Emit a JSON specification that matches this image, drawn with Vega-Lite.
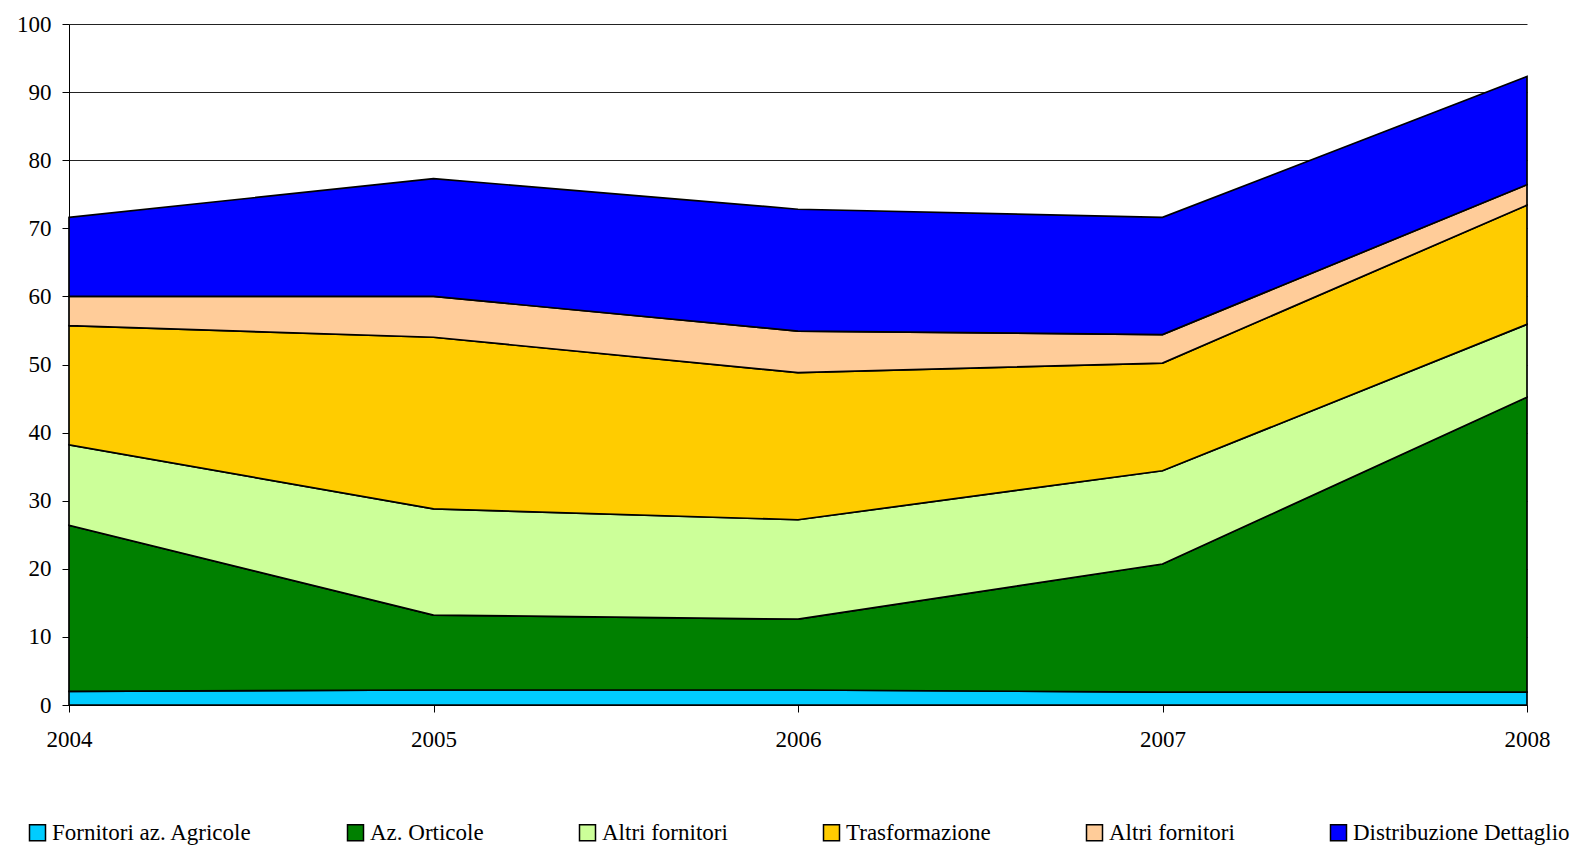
{
  "$schema": "https://vega.github.io/schema/vega-lite/v6.json",
  "width": 1458,
  "height": 681,
  "autosize": {"type": "none"},
  "padding": {"left": 69, "top": 24, "right": 67, "bottom": 140},
  "background": "white",
  "config": {
    "view": {"stroke": null},
    "font": "Liberation Serif",
    "axis": {
      "labelFont": "Liberation Serif",
      "labelFontSize": 23,
      "labelColor": "#000000",
      "domainColor": "#000000",
      "domainWidth": 1,
      "tickColor": "#000000",
      "tickSize": 7,
      "tickWidth": 1,
      "title": null
    },
    "legend": {
      "labelFont": "Liberation Serif",
      "labelFontSize": 23,
      "labelColor": "#000000",
      "labelLimit": 400
    }
  },
  "data": {
    "values": [
      {"anno": 2004, "serie": "Fornitori az. Agricole", "k": 1, "valore": 2.0},
      {"anno": 2005, "serie": "Fornitori az. Agricole", "k": 1, "valore": 2.2},
      {"anno": 2006, "serie": "Fornitori az. Agricole", "k": 1, "valore": 2.2},
      {"anno": 2007, "serie": "Fornitori az. Agricole", "k": 1, "valore": 1.9},
      {"anno": 2008, "serie": "Fornitori az. Agricole", "k": 1, "valore": 1.9},
      {"anno": 2004, "serie": "Az. Orticole", "k": 2, "valore": 24.4},
      {"anno": 2005, "serie": "Az. Orticole", "k": 2, "valore": 11.0},
      {"anno": 2006, "serie": "Az. Orticole", "k": 2, "valore": 10.4},
      {"anno": 2007, "serie": "Az. Orticole", "k": 2, "valore": 18.8},
      {"anno": 2008, "serie": "Az. Orticole", "k": 2, "valore": 43.3},
      {"anno": 2004, "serie": "Altri fornitori", "k": 3, "valore": 11.8},
      {"anno": 2005, "serie": "Altri fornitori", "k": 3, "valore": 15.6},
      {"anno": 2006, "serie": "Altri fornitori", "k": 3, "valore": 14.6},
      {"anno": 2007, "serie": "Altri fornitori", "k": 3, "valore": 13.7},
      {"anno": 2008, "serie": "Altri fornitori", "k": 3, "valore": 10.7},
      {"anno": 2004, "serie": "Trasformazione", "k": 4, "valore": 17.5},
      {"anno": 2005, "serie": "Trasformazione", "k": 4, "valore": 25.2},
      {"anno": 2006, "serie": "Trasformazione", "k": 4, "valore": 21.6},
      {"anno": 2007, "serie": "Trasformazione", "k": 4, "valore": 15.8},
      {"anno": 2008, "serie": "Trasformazione", "k": 4, "valore": 17.5},
      {"anno": 2004, "serie": "Altri fornitori (2)", "k": 5, "valore": 4.3},
      {"anno": 2005, "serie": "Altri fornitori (2)", "k": 5, "valore": 6.0},
      {"anno": 2006, "serie": "Altri fornitori (2)", "k": 5, "valore": 6.1},
      {"anno": 2007, "serie": "Altri fornitori (2)", "k": 5, "valore": 4.2},
      {"anno": 2008, "serie": "Altri fornitori (2)", "k": 5, "valore": 3.0},
      {"anno": 2004, "serie": "Distribuzione Dettaglio", "k": 6, "valore": 11.6},
      {"anno": 2005, "serie": "Distribuzione Dettaglio", "k": 6, "valore": 17.3},
      {"anno": 2006, "serie": "Distribuzione Dettaglio", "k": 6, "valore": 17.9},
      {"anno": 2007, "serie": "Distribuzione Dettaglio", "k": 6, "valore": 17.2},
      {"anno": 2008, "serie": "Distribuzione Dettaglio", "k": 6, "valore": 15.9}
    ]
  },
  "mark": {"type": "area", "stroke": "#000000", "strokeWidth": 1.7, "opacity": 1, "fillOpacity": 1},
  "encoding": {
    "x": {
      "field": "anno",
      "type": "quantitative",
      "scale": {"domain": [2004, 2008], "nice": false, "zero": false},
      "axis": {
        "values": [2004, 2005, 2006, 2007, 2008],
        "format": "d",
        "grid": false,
        "labelPadding": 16,
        "labelFlush": false
      }
    },
    "y": {
      "field": "valore",
      "type": "quantitative",
      "stack": "zero",
      "scale": {"domain": [0, 100], "nice": false},
      "axis": {
        "values": [0, 10, 20, 30, 40, 50, 60, 70, 80, 90, 100],
        "grid": true,
        "gridColor": "#222222",
        "gridWidth": 1,
        "labelPadding": 11
      }
    },
    "color": {
      "field": "serie",
      "type": "nominal",
      "scale": {
        "domain": ["Fornitori az. Agricole", "Az. Orticole", "Altri fornitori", "Trasformazione", "Altri fornitori (2)", "Distribuzione Dettaglio"],
        "range": ["#00CCFF", "#008000", "#CCFF99", "#FFCC00", "#FFCC99", "#0000FF"]
      },
      "legend": {
        "title": null,
        "orient": "none",
        "legendX": -43,
        "legendY": 797,
        "direction": "horizontal",
        "columns": 6,
        "columnPadding": 92,
        "symbolType": "square",
        "symbolSize": 256,
        "symbolStrokeColor": "#000000",
        "symbolStrokeWidth": 1.5,
        "symbolOpacity": 1,
        "labelOffset": 3,
        "labelExpr": "replace(datum.label, ' (2)', '')"
      }
    },
    "order": {"field": "k", "type": "quantitative"}
  }
}
